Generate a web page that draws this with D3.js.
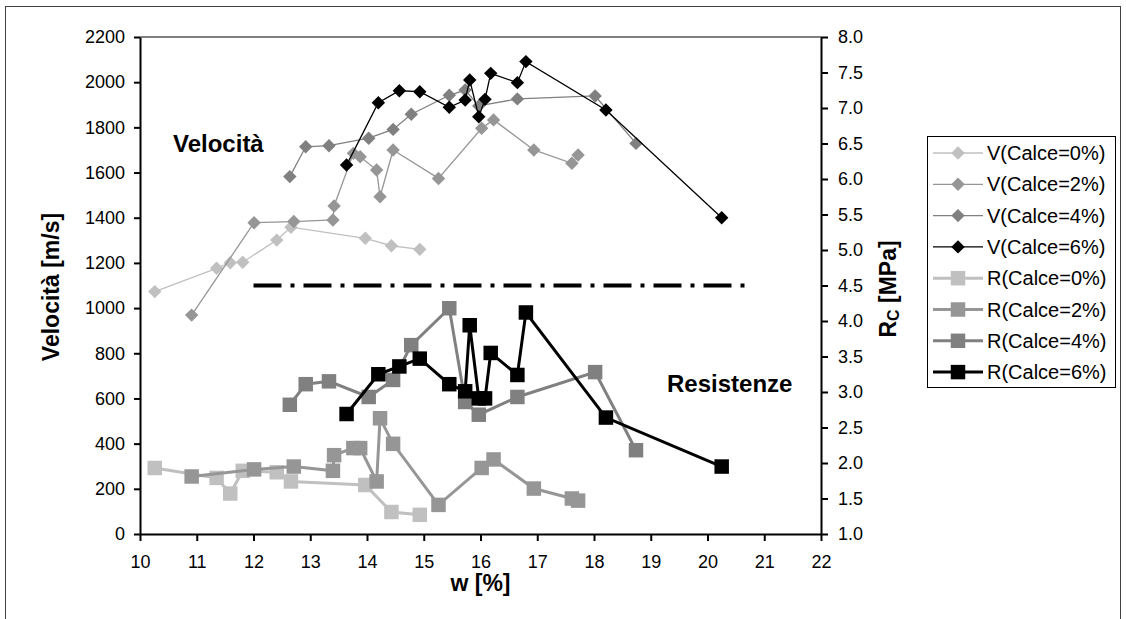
<!DOCTYPE html>
<html>
<head>
<meta charset="utf-8">
<script src="https://cdn.jsdelivr.net/npm/d3@7"></script>
<style>
    body { margin: 0; background: #fff; }
    text { font-family: "Liberation Sans", Arial, sans-serif; fill: #000; }
    .axis path, .axis line { stroke: #000; stroke-width: 2px; }
    .axis text { font-size: 18px; }
</style>
</head>
<body>
<div id="chart"></div>
<script>
'use strict';

// Data: w [%] per mix, velocity [m/s] and strength Rc [MPa]
const w0 = [10.26, 11.35, 11.59, 11.81, 12.41, 12.66, 13.97, 14.43, 14.93];
const vel0 = [1073, 1176, 1201, 1203, 1301, 1358, 1309, 1276, 1260];
const rc0 = [1.93, 1.79, 1.57, 1.89, 1.87, 1.74, 1.69, 1.31, 1.27];

const w2 = [10.91, 12.01, 12.71, 13.40, 13.42, 13.76, 13.88, 14.17, 14.23, 14.46, 15.26, 16.02, 16.23, 16.94, 17.61, 17.72];
const vel2 = [969, 1378, 1383, 1390, 1452, 1685, 1670, 1611, 1493, 1700, 1574, 1796, 1833, 1700, 1641, 1678];
const rc2 = [1.81, 1.91, 1.95, 1.89, 2.11, 2.21, 2.21, 1.74, 2.63, 2.27, 1.41, 1.93, 2.05, 1.64, 1.50, 1.47];

const w4 = [12.64, 12.92, 13.33, 14.03, 14.46, 14.78, 15.45, 15.73, 15.97, 16.65, 18.02, 18.74];
const vel4 = [1582, 1714, 1719, 1752, 1791, 1858, 1942, 1965, 1895, 1926, 1939, 1729];
const rc4 = [2.82, 3.11, 3.15, 2.93, 3.17, 3.66, 4.18, 2.86, 2.68, 2.93, 3.28, 2.18];

const w6 = [13.64, 14.20, 14.57, 14.93, 15.45, 15.73, 15.81, 15.97, 16.08, 16.18, 16.65, 16.80, 18.21, 20.25];
const vel6 = [1633, 1909, 1962, 1958, 1889, 1921, 2010, 1847, 1924, 2039, 1998, 2091, 1877, 1400];
const rc6 = [2.69, 3.25, 3.36, 3.47, 3.11, 3.01, 3.94, 2.91, 2.91, 3.55, 3.24, 4.12, 2.64, 1.95];

const seriesNames = ['V(Calce=0%)', 'V(Calce=2%)', 'V(Calce=4%)', 'V(Calce=6%)',
    'R(Calce=0%)', 'R(Calce=2%)', 'R(Calce=4%)', 'R(Calce=6%)'];
const greys = ['#c0c0c0', '#969696', '#808080', '#000000'];

// Separator line between the two groups (Rc units)
const sepW = [12, 20.8];
const sepRc = [4.5, 4.5];

const xTicks = d3.range(10, 22.01, 1);
const vTicks = d3.range(0, 2201, 200);
const rTicks = d3.range(1, 8.01, 0.5);

/*
Build series
*/
const zip = (xs, ys) => xs.map((x, i) => ({x: x, y: ys[i]}));
const velSeries = [zip(w0, vel0), zip(w2, vel2), zip(w4, vel4), zip(w6, vel6)];
const rcSeries = [zip(w0, rc0), zip(w2, rc2), zip(w4, rc4), zip(w6, rc6)];

/*
Svg
*/
const W = 1126, H = 619;
const svg = d3.select('#chart').append('svg')
    .attr('width', W)
    .attr('height', H);

// Outer frame (cut off at the bottom)
svg.append('rect')
    .attr('x', 5.5).attr('y', 6.5)
    .attr('width', 1115).attr('height', 700)
    .attr('fill', '#fff')
    .attr('stroke', '#404040')
    .attr('stroke-width', 1);

// Plot area
const plot = {left: 140, right: 821, top: 37, bottom: 534};

const x = d3.scaleLinear().domain([10, 22]).range([plot.left, plot.right]);
const yV = d3.scaleLinear().domain([0, 2200]).range([plot.bottom, plot.top]);
const yR = d3.scaleLinear().domain([1, 8]).range([plot.bottom, plot.top]);

// Top border of the plot area
svg.append('line')
    .attr('x1', plot.left).attr('x2', plot.right)
    .attr('y1', plot.top).attr('y2', plot.top)
    .attr('stroke', '#808080')
    .attr('stroke-width', 2);

// Axes
svg.append('g')
    .attr('class', 'axis')
    .attr('transform', `translate(${plot.left},0)`)
    .call(d3.axisLeft(yV).tickValues(vTicks).tickSize(6).tickSizeOuter(0).tickPadding(9)
        .tickFormat(d3.format('d')));

svg.append('g')
    .attr('class', 'axis')
    .attr('transform', `translate(${plot.right},0)`)
    .call(d3.axisRight(yR).tickValues(rTicks).tickSize(7).tickSizeOuter(0).tickPadding(10)
        .tickFormat(d3.format('.1f')));

svg.append('g')
    .attr('class', 'axis')
    .attr('transform', `translate(0,${plot.bottom})`)
    .call(d3.axisBottom(x).tickValues(xTicks).tickSize(7).tickSizeOuter(0).tickPadding(14)
        .tickFormat(d3.format('d')));

// Axis titles
svg.append('text')
    .attr('transform', 'translate(51,287) rotate(-90)')
    .attr('text-anchor', 'middle')
    .attr('dominant-baseline', 'central')
    .style('font-size', '23px')
    .style('font-weight', 'bold')
    .text('Velocità [m/s]');

svg.append('text')
    .attr('x', (plot.left + plot.right) / 2)
    .attr('y', 591)
    .attr('text-anchor', 'middle')
    .style('font-size', '23px')
    .style('font-weight', 'bold')
    .text('w [%]');

const rcTitle = svg.append('text')
    .attr('transform', 'translate(888,289) rotate(-90)')
    .attr('text-anchor', 'middle')
    .attr('dominant-baseline', 'central')
    .style('font-size', '23px')
    .style('font-weight', 'bold');
rcTitle.append('tspan').text('R');
rcTitle.append('tspan').attr('dy', 5).style('font-size', '16px').text('C');
rcTitle.append('tspan').attr('dy', -5).text(' [MPa]');

// Group labels
svg.append('text')
    .attr('x', 173).attr('y', 152)
    .style('font-size', '24px')
    .style('font-weight', 'bold')
    .text('Velocità');

svg.append('text')
    .attr('x', 667).attr('y', 392)
    .style('font-size', '24px')
    .style('font-weight', 'bold')
    .text('Resistenze');

// Separator dash-dot line
svg.append('path')
    .datum(zip(sepW, sepRc))
    .attr('d', d3.line().x(d => x(d.x)).y(d => yR(d.y)))
    .attr('stroke', '#000')
    .attr('stroke-width', 4)
    .attr('stroke-dasharray', '28,9,4,9')
    .attr('fill', 'none');

/*
Series
*/
const diamond = d3.symbol().type(d3.symbolDiamond2).size(115);
const square = d3.symbol().type(d3.symbolSquare).size(210);

velSeries.forEach((data, i) => {
    const g = svg.append('g').attr('class', 'vSeries');
    g.append('path')
        .datum(data)
        .attr('d', d3.line().x(d => x(d.x)).y(d => yV(d.y)))
        .attr('fill', 'none')
        .attr('stroke', greys[i])
        .attr('stroke-width', 1.3);
    g.selectAll('.pt')
        .data(data)
        .join('path')
        .attr('class', 'pt')
        .attr('transform', d => `translate(${x(d.x)},${yV(d.y)})`)
        .attr('d', diamond)
        .attr('fill', greys[i]);
});

rcSeries.forEach((data, i) => {
    const g = svg.append('g').attr('class', 'rSeries');
    g.append('path')
        .datum(data)
        .attr('d', d3.line().x(d => x(d.x)).y(d => yR(d.y)))
        .attr('fill', 'none')
        .attr('stroke', greys[i])
        .attr('stroke-width', 3);
    g.selectAll('.pt')
        .data(data)
        .join('path')
        .attr('class', 'pt')
        .attr('transform', d => `translate(${x(d.x)},${yR(d.y)})`)
        .attr('d', square)
        .attr('fill', greys[i]);
});

/*
Legend
*/
const legend = svg.append('g').attr('class', 'legend');
legend.append('rect')
    .attr('x', 927.5).attr('y', 136.5)
    .attr('width', 188).attr('height', 251)
    .attr('fill', '#fff')
    .attr('stroke', '#000')
    .attr('stroke-width', 1);

seriesNames.forEach((name, i) => {
    const yy = 153 + i * 31.3;
    const col = greys[i % 4];
    const isV = i < 4;
    legend.append('line')
        .attr('x1', 933).attr('x2', 983)
        .attr('y1', yy).attr('y2', yy)
        .attr('stroke', col)
        .attr('stroke-width', isV ? 1.3 : 3);
    legend.append('path')
        .attr('transform', `translate(958,${yy})`)
        .attr('d', isV ? diamond : square)
        .attr('fill', col);
    legend.append('text')
        .attr('x', 987).attr('y', yy)
        .attr('dominant-baseline', 'central')
        .style('font-size', '20px')
        .text(name);
});
</script>
</body>
</html>
